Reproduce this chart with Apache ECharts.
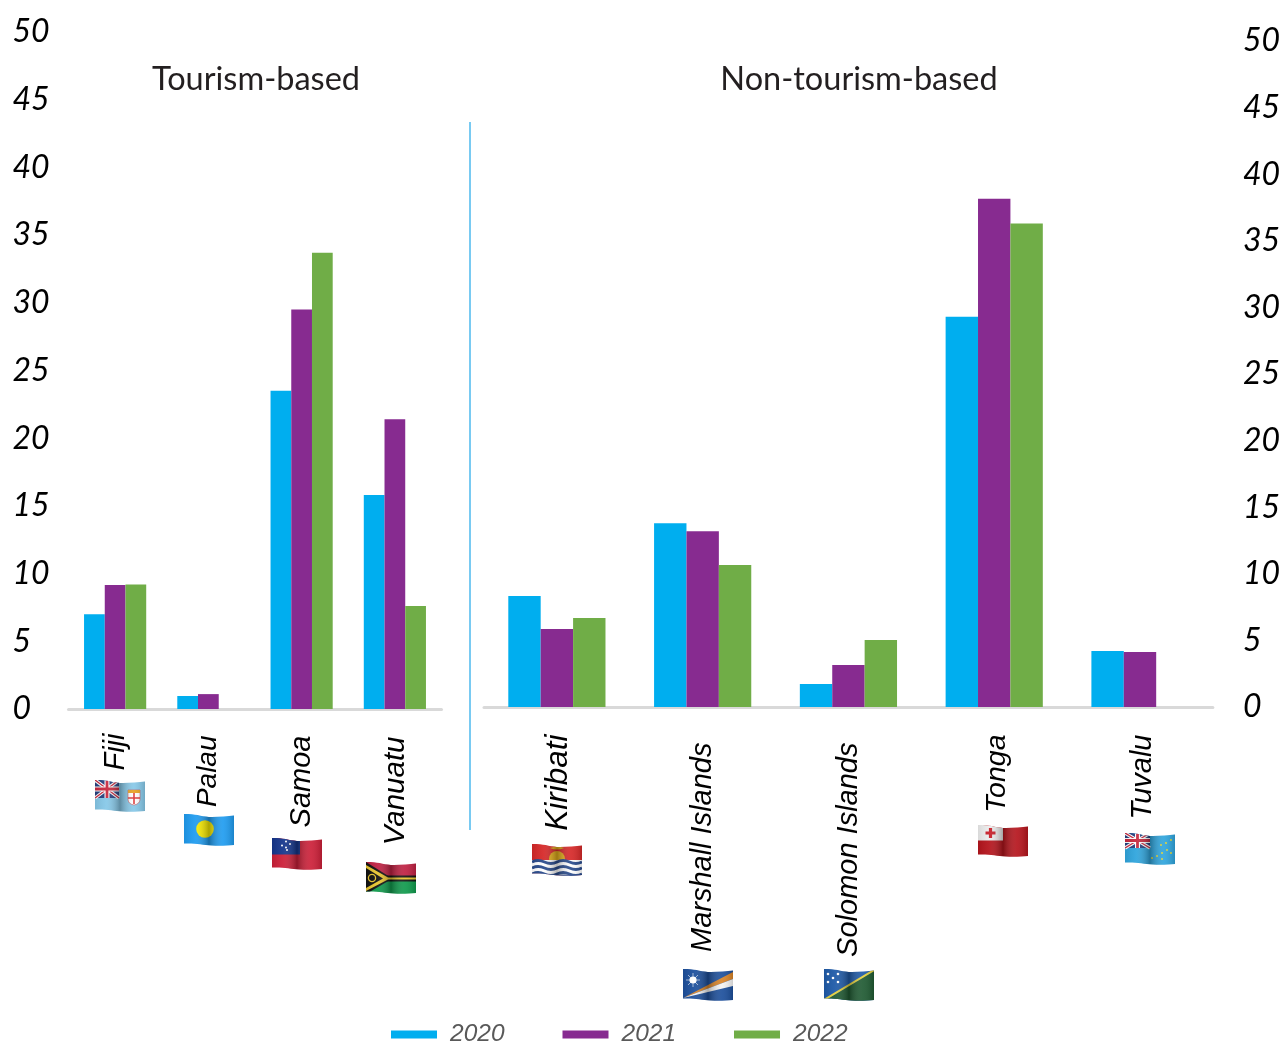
<!DOCTYPE html>
<html><head><meta charset="utf-8">
<style>html,body{margin:0;padding:0;background:#fff}#c{width:1283px;height:1044px}</style>
<script src="https://cdn.jsdelivr.net/npm/echarts@6/dist/echarts.min.js"></script>
</head><body><div id="c"></div>
<script>
const seriesNames = ['2020','2021','2022'];
const tourismCountries = ['Fiji','Palau','Samoa','Vanuatu'];
const tourism2020 = [7.0,0.96,23.5,15.8];
const tourism2021 = [9.15,1.1,29.5,21.4];
const tourism2022 = [9.2,null,33.7,7.6];
const otherCountries = ['Kiribati','Marshall Islands','Solomon Islands','Tonga','Tuvalu'];
const other2020 = [8.33,13.8,1.73,29.3,4.2];
const other2021 = [5.85,13.2,3.15,38.15,4.13];
const other2022 = [6.68,10.66,5.03,36.3,null];
const colors = ['#00AEEF','#872B90','#70AD47'];
const headings = ['Tourism-based','Non-tourism-based'];

// Per-label styling: push away from the axis, sideways nudge, font size
const labelStyle = {
 'Fiji':{away:0,side:2,size:29},'Palau':{away:2,side:0,size:28},'Samoa':{away:2,side:0,size:29},'Vanuatu':{away:3,side:1,size:29.5},
 'Kiribati':{away:0,side:2,size:31.5},'Marshall Islands':{away:8,side:1,size:29},'Solomon Islands':{away:8,side:0,size:29},'Tonga':{away:0,side:5,size:28.5},'Tuvalu':{away:0,side:6,size:29}
};

function uj(w,h){return `<g><rect width="${w}" height="${h}" fill="#27407f"/>
<path d="M0 0L${w} ${h}M${w} 0L0 ${h}" stroke="#fff" stroke-width="3.4"/>
<path d="M0 0L${w} ${h}M${w} 0L0 ${h}" stroke="#c8283e" stroke-width="1.3"/>
<path d="M${w/2} 0V${h}M0 ${h/2}H${w}" stroke="#fff" stroke-width="5"/>
<path d="M${w/2} 0V${h}M0 ${h/2}H${w}" stroke="#c8283e" stroke-width="2.8"/></g>`;}
function stars(a,c,r){return a.map(p=>`<circle cx="${p[0]}" cy="${p[1]}" r="${r}" fill="${c}"/>`).join('');}
const flagArt = {
 Fiji:`<rect width="50" height="32" fill="#86c8e8"/>${uj(24,18)}<path d="M33 10h12v9q0 5-6 6q-6-1-6-6z" fill="#fff" stroke="#c33" stroke-width=".5"/><rect x="33" y="10" width="12" height="3" fill="#e8a020"/><path d="M39 13v11M33 18h12" stroke="#d33" stroke-width="1.6"/>`,
 Palau:`<rect width="50" height="32" fill="#1f9cf0"/><circle cx="21" cy="15" r="8.8" fill="#f7ea00"/>`,
 Samoa:`<rect width="50" height="32" fill="#cc1f38"/><rect width="28" height="16.5" fill="#14358c"/>${stars([[14,3.5],[18,6],[14,9.5],[10,7.5],[15,12]],'#fff',1)}`,
 Vanuatu:`<rect width="50" height="16" fill="#bf2042"/><rect y="16" width="50" height="16" fill="#0f9a4c"/><rect y="13.5" width="50" height="6" fill="#111"/><rect y="15.5" width="50" height="2" fill="#e8c52f"/><path d="M0 0L24 15H50V18H24L0 32Z" fill="#111"/><path d="M0 3L22 15.5H50V17.500H22L0 29Z" fill="#e8c52f"/><path d="M0 6L17 16.500L0 26Z" fill="#111"/><circle cx="6" cy="16" r="3.600" fill="none" stroke="#e8c52f" stroke-width="1.300"/>`,
 Kiribati:`<rect width="50" height="32" fill="#d62828"/><circle cx="25" cy="15" r="8" fill="#e0aa1a"/><path d="M18 4q7-3 14 0q-7 3-14 0z" fill="#e0aa1a"/><rect y="16" width="50" height="16" fill="#fff"/><path d="M0 18q6-3 12.500 0t12.500 0t12.500 0t12.500 0M0 24q6-3 12.500 0t12.500 0t12.500 0t12.500 0M0 30q6-3 12.500 0t12.500 0t12.500 0t12.500 0" fill="none" stroke="#284a8c" stroke-width="2.800"/><rect y="30.500" width="50" height="3" fill="#284a8c"/>`,
 Marshall:`<rect width="50" height="32" fill="#1c4f9c"/><path d="M0 29L50 3V10Z" fill="#d98428"/><path d="M0 29L50 10V17Z" fill="#f4f4f4"/><circle cx="10" cy="11" r="3.600" fill="#fff"/><path d="M10 4V18M3 11H17M5 6L15 16M15 6L5 16" stroke="#fff" stroke-width=".6"/>`,
 Solomon:`<rect width="50" height="32" fill="#1e5aa8"/><path d="M0 32L50 2V32Z" fill="#1f5a32"/><path d="M0 31L50 1" stroke="#e6d23a" stroke-width="2"/>${stars([[4,5],[14,5],[9,9],[4,13],[14,13]],'#fff',1.300)}`,
 Tonga:`<rect width="50" height="32" fill="#b5141c"/><rect width="25" height="15.500" fill="#ececec"/><path d="M12.500 3V13M7.500 8H17.500" stroke="#c81e28" stroke-width="3.200"/>`,
 Tuvalu:`<rect width="50" height="32" fill="#2fa5dd"/>${uj(25,15)}${stars([[46,7],[41,10],[36,12],[42,17],[46,20],[37,20],[32,23],[37,26],[27,25]],'#d8d23a',1.100)}`
};
function flagUri(art){
 const clip='M0 0C12 -.5 18 3 28 3C36 3 44 2 50 1.500V31C44 31.500 36 32 28 31.500C18 31 12 29 0 29.500Z';
 const svg=`<svg xmlns="http://www.w3.org/2000/svg" width="50" height="32" viewBox="0 0 50 32"><defs><clipPath id="k"><path d="${clip}"/></clipPath><linearGradient id="g" x1="0" x2="1" y1="0" y2="0"><stop offset="0" stop-color="#000" stop-opacity=".08"/><stop offset=".22" stop-color="#fff" stop-opacity=".06"/><stop offset=".5" stop-color="#000" stop-opacity=".3"/><stop offset=".78" stop-color="#fff" stop-opacity=".08"/><stop offset="1" stop-color="#000" stop-opacity=".16"/></linearGradient></defs><g clip-path="url(#k)">${art}<rect width="50" height="32" fill="url(#g)"/></g></svg>`;
 return 'data:image/svg+xml;charset=utf-8,'+encodeURIComponent(svg);
}
const flagPlacement=[['Fiji',95,780],['Palau',184,814],['Samoa',272,838],['Vanuatu',366,862],['Kiribati',532,844],['Marshall',683,969],['Solomon',824,969],['Tonga',978,825],['Tuvalu',1125,833]];

const chart=echarts.init(document.getElementById('c'),null,{renderer:'canvas'});
const numFont={fontFamily:'Lato',fontStyle:'italic',fontSize:32,color:'#000'};
function labelRich(){const r={};Object.keys(labelStyle).forEach((k,i)=>{const s=labelStyle[k];
 r['l'+i]={fontFamily:'Liberation Sans',fontStyle:'italic',fontSize:s.size,color:'#000',padding:[s.side,s.away,0,0]};});return r;}
const labelKeys=Object.keys(labelStyle);
function catAxis(grid,data,margin){return{type:'category',gridIndex:grid,data,offset:1.5,
 axisTick:{show:false},axisLine:{lineStyle:{color:'#D9D9D9',width:3}},
 axisLabel:{interval:0,rotate:90,margin,formatter:v=>`{l${labelKeys.indexOf(v)}|${v}}`,rich:labelRich()}};}
function valAxis(grid,pos,margin,pad){return{type:'value',gridIndex:grid,position:pos,min:0,max:50,interval:5,
 splitLine:{show:false},axisLine:{show:false},axisTick:{show:false},
 axisLabel:Object.assign({margin,align:'left',padding:[0,0,pad,0]},numFont)};}
function bar(name,i,grid,data){return{type:'bar',name,xAxisIndex:grid,yAxisIndex:grid,data,barGap:0,barCategoryGap:'33.33%',itemStyle:{color:colors[i]}};}

chart.setOption({
 animation:false,backgroundColor:'#fff',color:colors,
 grid:[{left:68.5,width:373,top:32,height:677},{left:484,width:732,top:41,height:666}],
 xAxis:[catAxis(0,tourismCountries,23),catAxis(1,otherCountries,26)],
 yAxis:[valAxis(0,'left',56,6),valAxis(1,'right',30,2)],
 legend:{left:391,top:1022,padding:0,itemWidth:46,itemHeight:8,itemGap:58,icon:'rect',
  data:seriesNames,textStyle:{fontFamily:'Liberation Sans',fontStyle:'italic',fontSize:24.5,color:'#595959',padding:[0,0,0,8]}},
 series:[bar('2020',0,0,tourism2020),bar('2021',1,0,tourism2021),bar('2022',2,0,tourism2022),
  bar('2020',0,1,other2020),bar('2021',1,1,other2021),bar('2022',2,1,other2022)],
 graphic:[
  {type:'line',shape:{x1:470,y1:122,x2:470,y2:830},style:{stroke:'#4DB8EE',lineWidth:1.5}},
  {type:'text',x:256,y:80,style:{text:headings[0],fontFamily:'Lato',fontSize:32.5,fill:'#231F20',align:'center',verticalAlign:'middle'}},
  {type:'text',x:859,y:80,style:{text:headings[1],fontFamily:'Lato',fontSize:32.5,fill:'#231F20',align:'center',verticalAlign:'middle'}},
  ...flagPlacement.map(f=>({type:'image',x:f[1],y:f[2],style:{image:flagUri(flagArt[f[0]]),width:50,height:32}}))
 ]
});
</script></body></html>
